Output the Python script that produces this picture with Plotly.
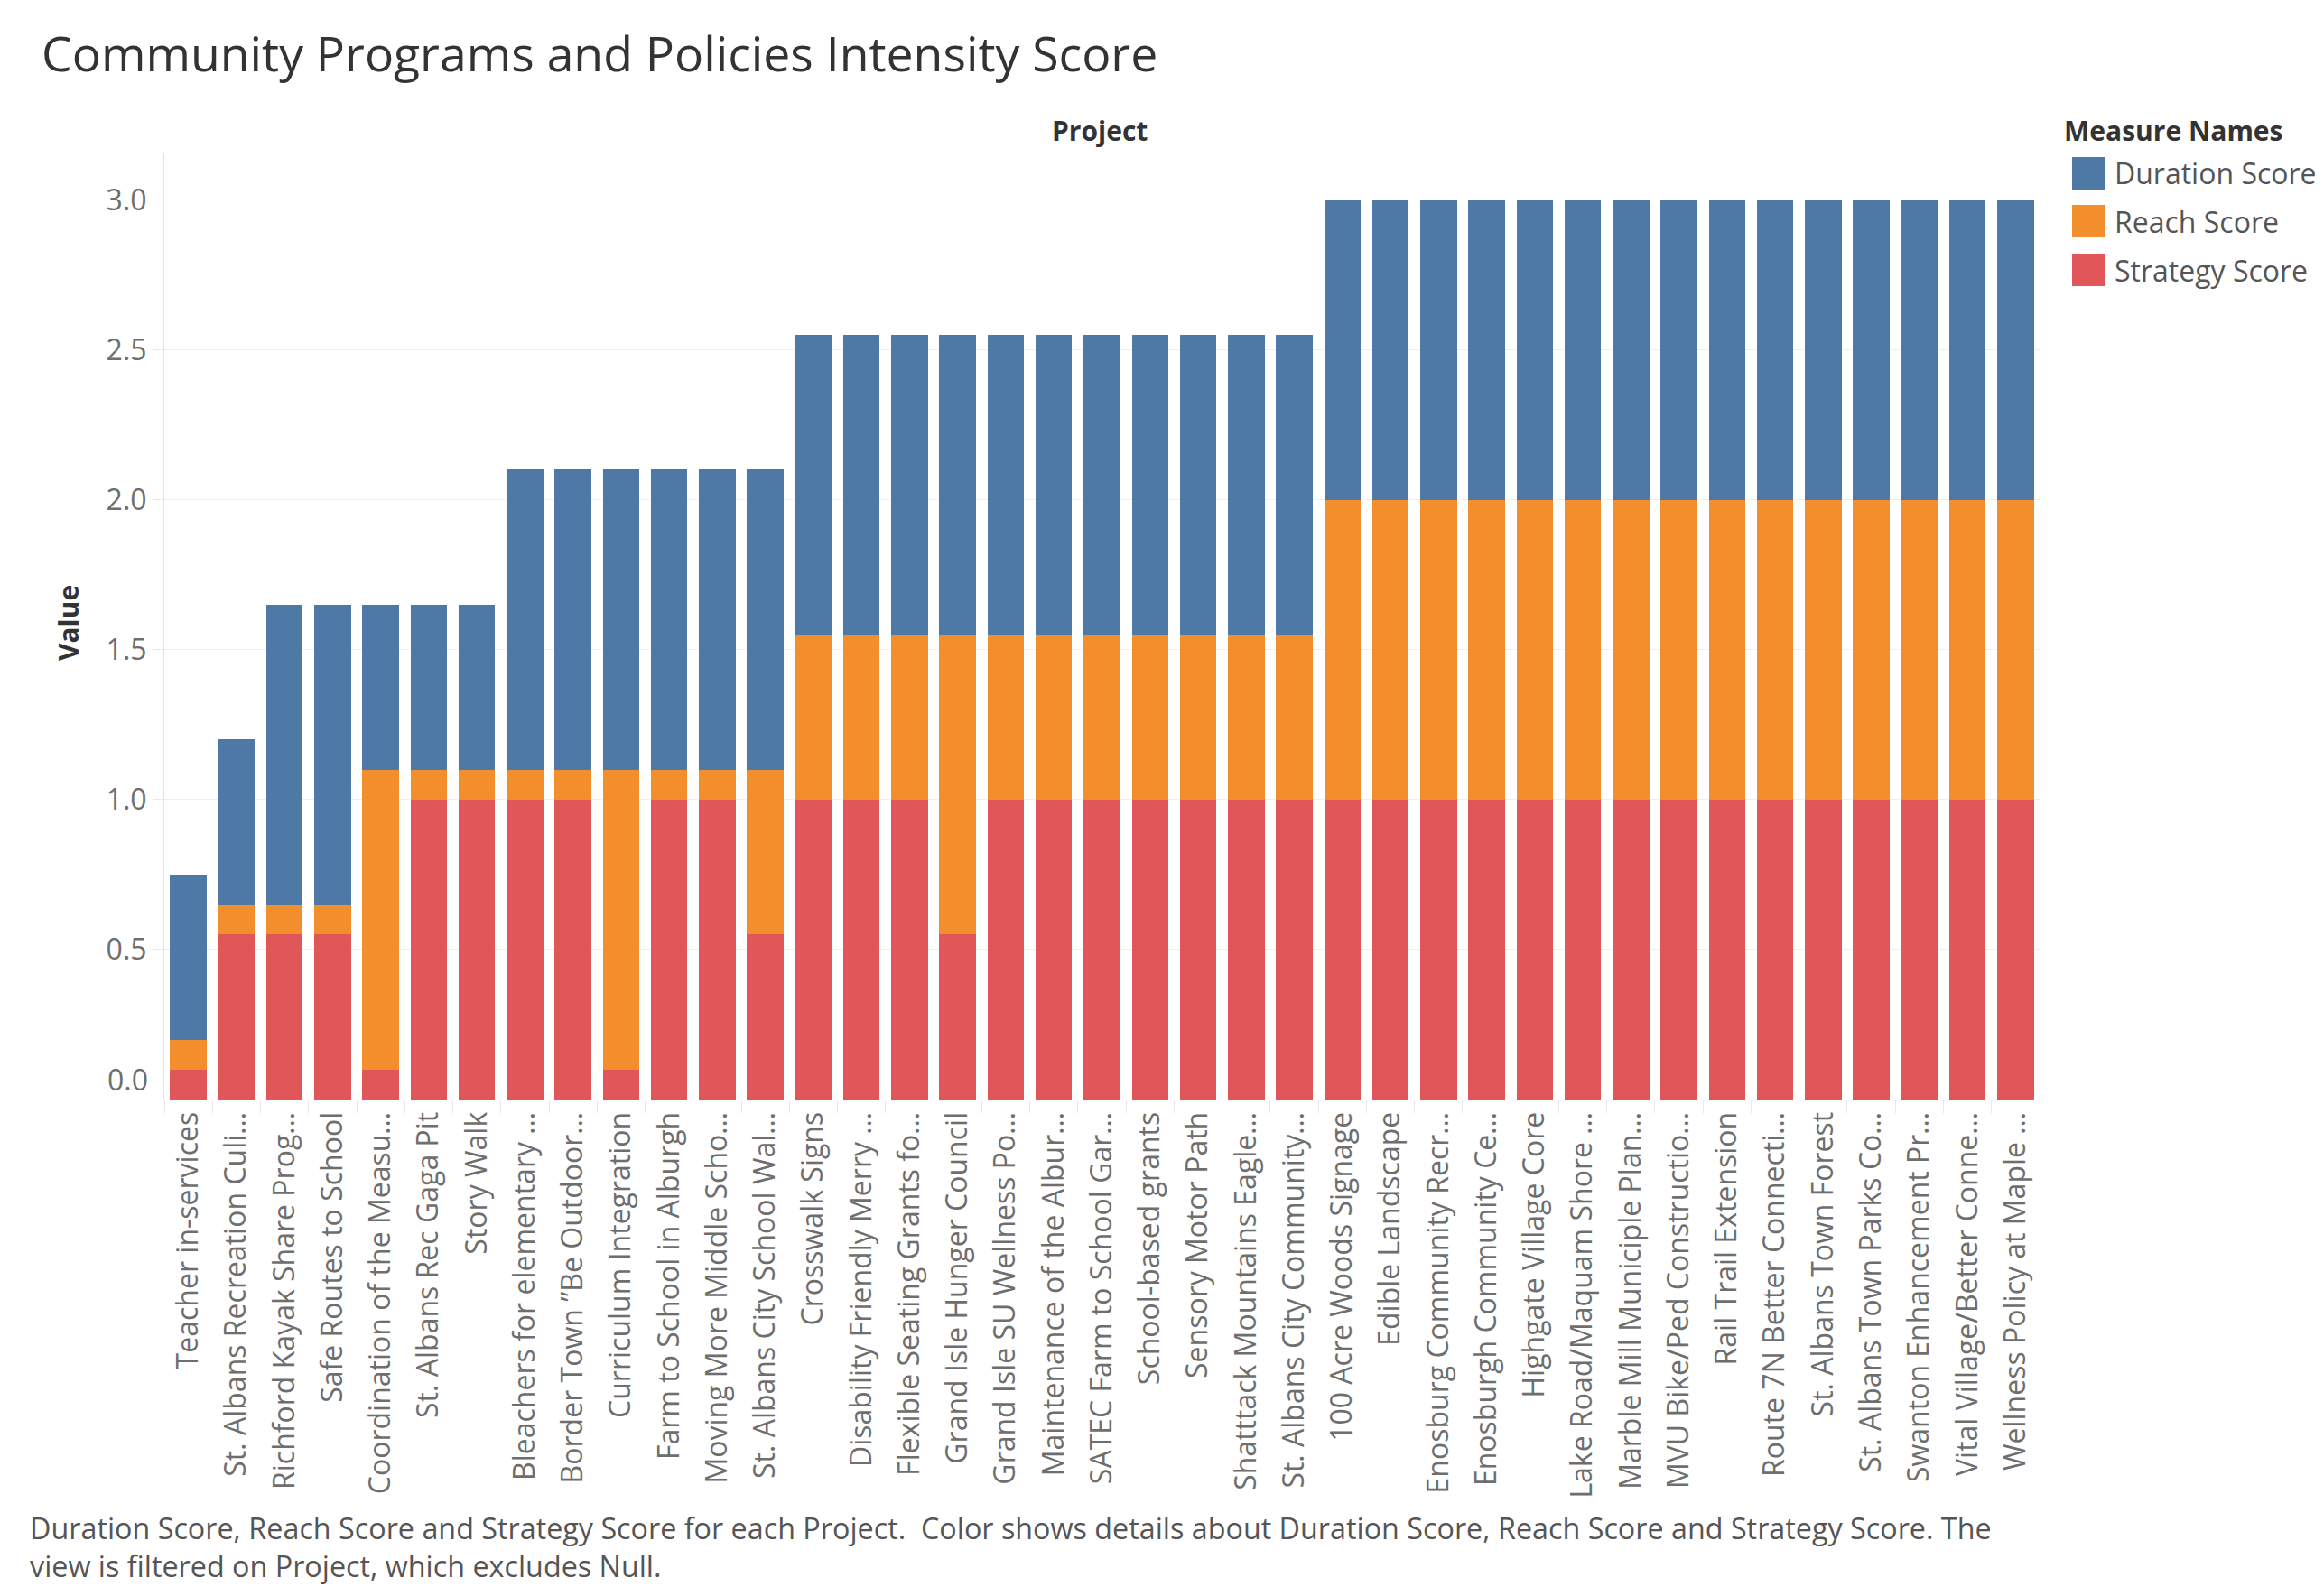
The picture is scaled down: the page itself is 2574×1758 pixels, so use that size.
import plotly.graph_objects as go

projects = [
    "Teacher in-services",
    "St. Albans Recreation Culi…",
    "Richford Kayak Share Prog…",
    "Safe Routes to School",
    "Coordination of the Measu…",
    "St. Albans Rec Gaga Pit",
    "Story Walk",
    "Bleachers for elementary …",
    "Border Town ”Be Outdoor…",
    "Curriculum Integration",
    "Farm to School in Alburgh",
    "Moving More Middle Scho…",
    "St. Albans City School Wal…",
    "Crosswalk Signs",
    "Disability Friendly Merry …",
    "Flexible Seating Grants fo…",
    "Grand Isle Hunger Council",
    "Grand Isle SU Wellness Po…",
    "Maintenance of the Albur…",
    "SATEC Farm to School Gar…",
    "School-based grants",
    "Sensory Motor Path",
    "Shatttack Mountains Eagle…",
    "St. Albans City Community…",
    "100 Acre Woods Signage",
    "Edible Landscape",
    "Enosburg Community Recr…",
    "Enosburgh Community Ce…",
    "Highgate Village Core",
    "Lake Road/Maquam Shore …",
    "Marble Mill Municiple Plan…",
    "MVU Bike/Ped Constructio…",
    "Rail Trail Extension",
    "Route 7N Better Connecti…",
    "St. Albans Town Forest",
    "St. Albans Town Parks Co…",
    "Swanton Enhancement Pr…",
    "Vital Village/Better Conne…",
    "Wellness Policy at Maple …",
]

strategy_score = [0.1, 0.55, 0.55, 0.55, 0.1, 1.0, 1.0, 1.0, 1.0, 0.1, 1.0, 1.0, 0.55,
                  1.0, 1.0, 1.0, 0.55, 1.0, 1.0, 1.0, 1.0, 1.0, 1.0, 1.0,
                  1.0, 1.0, 1.0, 1.0, 1.0, 1.0, 1.0, 1.0, 1.0, 1.0, 1.0, 1.0, 1.0, 1.0, 1.0]
reach_score = [0.1, 0.1, 0.1, 0.1, 1.0, 0.1, 0.1, 0.1, 0.1, 1.0, 0.1, 0.1, 0.55,
               0.55, 0.55, 0.55, 1.0, 0.55, 0.55, 0.55, 0.55, 0.55, 0.55, 0.55,
               1.0, 1.0, 1.0, 1.0, 1.0, 1.0, 1.0, 1.0, 1.0, 1.0, 1.0, 1.0, 1.0, 1.0, 1.0]
duration_score = [0.55, 0.55, 1.0, 1.0, 0.55, 0.55, 0.55, 1.0, 1.0, 1.0, 1.0, 1.0, 1.0,
                  1.0, 1.0, 1.0, 1.0, 1.0, 1.0, 1.0, 1.0, 1.0, 1.0, 1.0,
                  1.0, 1.0, 1.0, 1.0, 1.0, 1.0, 1.0, 1.0, 1.0, 1.0, 1.0, 1.0, 1.0, 1.0, 1.0]

y_tick_vals = [0, 0.5, 1.0, 1.5, 2.0, 2.5, 3.0]
y_tick_text = ["", "0.5", "1.0", "1.5", "2.0", "2.5", "3.0"]

series = [
    ("Strategy Score", strategy_score, "#E15759"),
    ("Reach Score", reach_score, "#F28E2B"),
    ("Duration Score", duration_score, "#4E79A7"),
]

FONT = "Open Sans"

fig = go.Figure()
for name, vals, col in series:
    fig.add_trace(go.Bar(
        x=projects, y=vals, name=name,
        marker=dict(color=col, line=dict(width=0)),
        showlegend=False,
    ))

W, H = 2574, 1758
L, R, T, B = 174, 323, 162, 548
pw, ph = W - L - R, H - T - B
OFF = 8  # page offset of the figure inside the browser body


def px_x(x):
    return (x - OFF - L) / pw


def px_y(y):
    return (H - B - (y - OFF)) / ph


fig.update_layout(
    width=W, height=H,
    barmode="stack", bargap=0.24,
    paper_bgcolor="white", plot_bgcolor="white",
    margin=dict(l=L, r=R, t=T, b=B, autoexpand=False),
    font=dict(family=FONT, color="#666666"),
    xaxis=dict(
        type="category", tickangle=-90, range=[-0.5, len(projects) - 0.5],
        tickfont=dict(size=32, color="#6e6e6e", family=FONT),
        ticks="outside", tickson="boundaries", ticklen=14, tickcolor="#e8e8e8",
        showline=True, linecolor="#e3e3e3", linewidth=1,
        showgrid=False, fixedrange=True,
    ),
    yaxis=dict(
        range=[0, 3.155], tickvals=y_tick_vals, ticktext=y_tick_text,
        tickfont=dict(size=32, color="#6e6e6e", family=FONT),
        ticks="outside", ticklen=12, tickcolor="#e8e8e8",
        showgrid=True, gridcolor="#efefef", gridwidth=1,
        showline=True, linecolor="#e3e3e3", zeroline=False,
    ),
)

annotations = [
    dict(text="Community Programs and Policies Intensity Score", xref="paper", yref="paper",
         x=px_x(44), y=px_y(59), xanchor="left", yanchor="middle",
         showarrow=False, font=dict(size=53.5, color="#333333", family=FONT)),
    dict(text="<b>Project</b>", xref="paper", yref="paper",
         x=px_x(1218), y=px_y(144), xanchor="center", yanchor="middle",
         showarrow=False, font=dict(size=30, color="#333333", family=FONT)),
    dict(text="<b>Value</b>", xref="paper", yref="paper", textangle=-90,
         x=px_x(75), y=px_y(690), xanchor="center", yanchor="middle",
         showarrow=False, font=dict(size=30, color="#333333", family=FONT)),
    dict(text="0.0", xref="paper", yref="y", x=0, y=0, xanchor="right", yanchor="middle",
         xshift=-16, yshift=23, showarrow=False,
         font=dict(size=32, color="#6e6e6e", family=FONT)),
    dict(text="Duration Score, Reach Score and Strategy Score for each Project.  Color shows details about Duration Score, Reach Score and Strategy Score. The<br>view is filtered on Project, which excludes Null.",
         xref="paper", yref="paper", align="left",
         x=px_x(31), y=px_y(1713), xanchor="left", yanchor="middle",
         showarrow=False, font=dict(size=32.3, color="#555555", family=FONT)),
    dict(text="<b>Measure Names</b>", xref="paper", yref="paper",
         x=px_x(2284), y=px_y(144), xanchor="left", yanchor="middle",
         showarrow=False, font=dict(size=30, color="#333333", family=FONT)),
]

shapes = []
legend_items = [("Duration Score", "#4E79A7", 192), ("Reach Score", "#F28E2B", 245), ("Strategy Score", "#E15759", 299)]
for name, col, yc in legend_items:
    shapes.append(dict(type="rect", xref="paper", yref="paper",
                       x0=px_x(2295), x1=px_x(2331),
                       y0=px_y(yc + 18), y1=px_y(yc - 18),
                       fillcolor=col, line=dict(width=0)))
    annotations.append(dict(text=name, xref="paper", yref="paper",
                            x=px_x(2340), y=px_y(yc), xanchor="left", yanchor="middle",
                            showarrow=False, font=dict(size=32, color="#555555", family=FONT)))

fig.update_layout(annotations=annotations, shapes=shapes)
fig.write_html("out.html")
